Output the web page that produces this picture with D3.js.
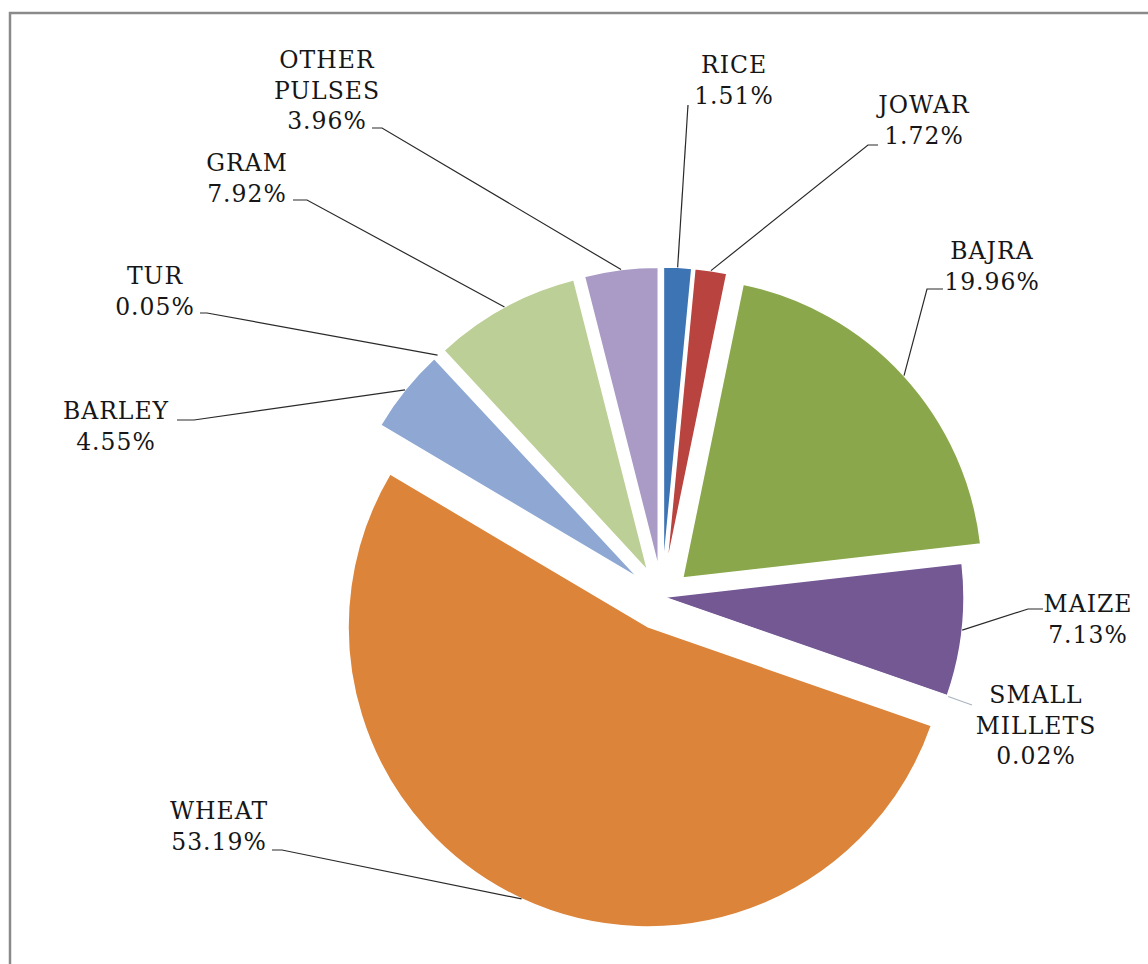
<!DOCTYPE html>
<html>
<head>
<meta charset="utf-8">
<script src="https://cdn.jsdelivr.net/npm/d3@7"></script>
<style>
  body { margin: 0; background: #fff; }
  svg { display: block; }
  .lbl { font-family: "DejaVu Serif", serif; font-size: 23.5px; letter-spacing: 1px; fill: #161616; }
</style>
</head>
<body>
<div id="chart"></div>
<script>
// crop shares, clockwise from 12 o'clock
var crops = ["RICE", "JOWAR", "BAJRA", "MAIZE", "SMALL MILLETS", "WHEAT", "BARLEY", "TUR", "GRAM", "OTHER PULSES"];
var shares = [1.51, 1.72, 19.96, 7.13, 0.02, 53.19, 4.55, 0.05, 7.92, 3.96];
var colors = ["#3d75b4", "#b8433f", "#8aa84b", "#735894", "#4aa8c2", "#dc843a", "#8ea8d3", "#d99694", "#bccf96", "#a99bc5"];

// how far each slice is pulled out (px)
var explode = [30, 30, 28, 2, 3, 33, 30, 30, 30, 30];

// label layout: centre x, first baseline, leader start + elbow
var labelX = [734, 924, 992, 1088, 1036, 219, 116, 155, 247, 327];
var labelY = [73, 113, 259, 612, 703, 819, 419, 284, 171, 68];
var leaders = [
	[[688, 105]],
	[[878, 145], [868, 145]],
	[[943, 289], [927, 289]],
	[[1043, 609], [1028, 609]],
	[[972, 705]],
	[[272, 850], [282, 850]],
	[[177, 420], [194, 420]],
	[[200, 313], [207, 313]],
	[[293, 200], [307, 200]],
	[[372, 128], [382, 128]]
];

var W = 1148, H = 964;
var cx = 662, cy = 597, R = 300;
var lineH = 30.5;

var svg = d3.select("#chart").append("svg")
	.attr("width", W)
	.attr("height", H);

// frame (only top and left edges show in the crop)
svg.append("path")
	.attr("d", "M10,964 L10,13 L1148,13")
	.attr("fill", "none")
	.attr("stroke", "#8a8a8a")
	.attr("stroke-width", 2.5);

var pie = d3.pie().sort(null).value(function(d){ return d; });
var arcs = pie(shares);

var arc = d3.arc().innerRadius(0).outerRadius(R);

function midDir(d){
	var a = (d.startAngle + d.endAngle) / 2;
	return [Math.sin(a), -Math.cos(a)];
}

var g = svg.append("g").attr("transform", "translate(" + cx + "," + cy + ")");

g.selectAll(".slice")
	.data(arcs)
	.enter().append("path")
	.attr("class", "slice")
	.attr("d", arc)
	.attr("transform", function(d, i){
		var m = midDir(d);
		return "translate(" + (m[0] * explode[i]) + "," + (m[1] * explode[i]) + ")";
	})
	.style("fill", function(d, i){ return colors[i]; })
	.style("stroke", "#fff")
	.style("stroke-width", 1.5);

// leader lines
var line = d3.line();
arcs.forEach(function(d, i){
	var m = midDir(d);
	var end = [cx + m[0] * (R + explode[i]), cy + m[1] * (R + explode[i])];
	var pts = leaders[i].concat([end]);
	svg.append("path")
		.attr("d", line(pts))
		.attr("fill", "none")
		.attr("stroke", i == 4 ? "#a9b4c0" : "#2a2a2a")
		.attr("stroke-width", 1.2);
});

// labels
arcs.forEach(function(d, i){
	var lines = crops[i].split(" ").concat([shares[i].toFixed(2) + "%"]);
	var t = svg.append("text")
		.attr("class", "lbl")
		.attr("text-anchor", "middle");
	lines.forEach(function(s, k){
		t.append("tspan")
			.attr("x", labelX[i])
			.attr("y", labelY[i] + k * lineH)
			.text(s);
	});
});
</script>
</body>
</html>
